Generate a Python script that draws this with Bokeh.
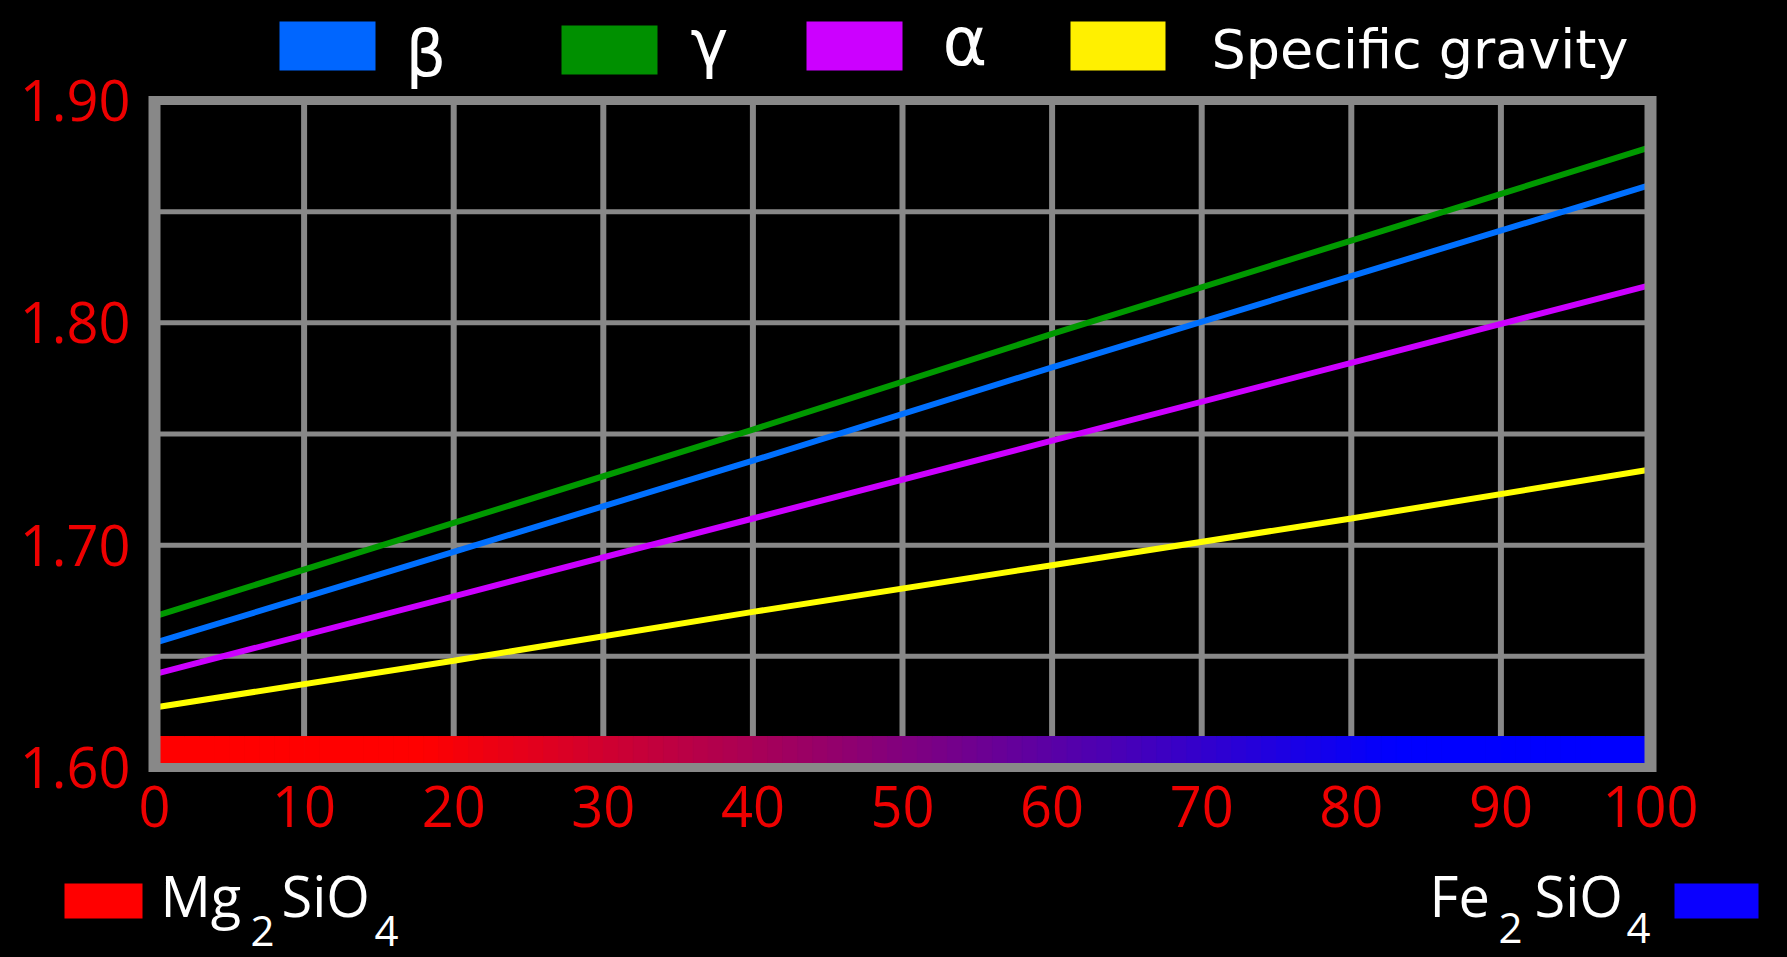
from bokeh.plotting import figure
from bokeh.models import FixedTicker, Range1d, PrintfTickFormatter, LinearAxis
from bokeh.core.properties import value
from bokeh.embed import file_html
from bokeh.resources import INLINE

# ---------------- data ----------------
composition = [0, 20, 40, 60, 80, 100]          # % Fe2SiO4
beta_index = [1.656, 1.697, 1.738, 1.780, 1.821, 1.862]
gamma_index = [1.668, 1.710, 1.752, 1.795, 1.837, 1.879]
alpha_index = [1.642, 1.677, 1.712, 1.747, 1.782, 1.817]
specific_gravity = [1.627, 1.648, 1.670, 1.691, 1.712, 1.734]

x_tick_values = [0, 10, 20, 30, 40, 50, 60, 70, 80, 90, 100]
x_grid_values = [10, 20, 30, 40, 50, 60, 70, 80, 90]
y_tick_values = [1.60, 1.70, 1.80, 1.90]
y_grid_values = [1.65, 1.70, 1.75, 1.80, 1.85]

series_names = ["β", "γ", "α", "Specific gravity"]
endmember_left = ["Mg", "2", "SiO", "4"]
endmember_right = ["Fe", "2", "SiO", "4"]

# ---------------- styles ----------------
BLUE = "#0070FF"
GREEN = "#009900"
PURPLE = "#CC00FF"
YELLOW = "#FFFF00"
GRID = "#888888"
AXIS_RED = "#EE0000"
MG_COLOR = (255, 0, 0)
FE_COLOR = (0, 0, 255)

# canvas geometry (pixels); the data box 0..100 x 1.60..1.90 sits inside the canvas
W, H = 1787, 957
X0_PX, X100_PX = 154.0, 1650.0
YTOP_PX, YBOT_PX = 100.0, 767.0
XMIN, XMAX = 0.0, 100.0
YMIN, YMAX = 1.60, 1.90
SX = (X100_PX - X0_PX) / (XMAX - XMIN)
SY = (YBOT_PX - YTOP_PX) / (YMAX - YMIN)
# em offsets compensating the svg text baseline placement, per font
BASELINE_SHIFT = {"Open Sans": 0.42, "DejaVu Sans": 0.29}


def dx(px):
    return XMIN + (px - X0_PX) / SX


def dy(py):
    return YMAX - (py - YTOP_PX) / SY


def ty(py, size, font):
    return dy(py - BASELINE_SHIFT[font] * size)


p = figure(title=None, width=W, height=H,
           x_range=Range1d(dx(0), dx(W)), y_range=Range1d(dy(H), dy(0)),
           x_axis_type=None, y_axis_type=None,
           min_border=0, min_border_left=0, min_border_right=0,
           min_border_top=0, min_border_bottom=0,
           output_backend="svg", toolbar_location=None,
           background_fill_color="black", border_fill_color="black")
p.outline_line_color = None

# axes pinned to the data box
xaxis = LinearAxis(fixed_location=YMIN, ticker=FixedTicker(ticks=x_tick_values))
yaxis = LinearAxis(fixed_location=XMIN, ticker=FixedTicker(ticks=y_tick_values),
                   formatter=PrintfTickFormatter(format="%.2f"))
for ax in (xaxis, yaxis):
    ax.axis_line_color = None
    ax.major_tick_line_color = None
    ax.minor_tick_line_color = None
    ax.major_tick_out = 0
    ax.major_tick_in = 0
    ax.major_label_text_font = "Open Sans"
    ax.major_label_text_font_size = "56px"
    ax.major_label_text_color = AXIS_RED
yaxis.major_label_standoff = 24
xaxis.major_label_standoff = 18
p.add_layout(xaxis, "below")
p.add_layout(yaxis, "left")

# grid lines
p.segment(x0=x_grid_values, y0=YMIN, x1=x_grid_values, y1=YMAX,
          line_color=GRID, line_width=6)
p.segment(x0=XMIN, y0=y_grid_values, x1=XMAX, y1=y_grid_values,
          line_color=GRID, line_width=5)

# composition colour bar (Mg end-member red -> Fe end-member blue)
bar_top = dy(736)
lefts, rights, cols = [], [], []
for i in range(100):
    xm = i + 0.5
    f = min(max((xm - 18.0) / (83.0 - 18.0), 0.0), 1.0)
    r = int(round(MG_COLOR[0] * (1 - f) + FE_COLOR[0] * f))
    g = int(round(MG_COLOR[1] * (1 - f) + FE_COLOR[1] * f))
    b = int(round(MG_COLOR[2] * (1 - f) + FE_COLOR[2] * f))
    lefts.append(float(i))
    rights.append(float(i + 1))
    cols.append("#%02x%02x%02x" % (r, g, b))
p.quad(left=lefts, right=rights, bottom=YMIN, top=bar_top, fill_color=cols,
       line_color=cols, line_width=1)

# series lines
p.line(composition, specific_gravity, line_color=YELLOW, line_width=6)
p.line(composition, alpha_index, line_color=PURPLE, line_width=6)
p.line(composition, beta_index, line_color=BLUE, line_width=6)
p.line(composition, gamma_index, line_color=GREEN, line_width=6)

# frame border (thick grey box)
p.quad(left=[XMIN], right=[XMAX], bottom=[YMIN], top=[YMAX], fill_color=None,
       line_color=GRID, line_width=9)
p.segment(x0=[XMIN, XMAX], y0=[dy(YTOP_PX - 4.5)] * 2, x1=[XMIN, XMAX], y1=[dy(YBOT_PX + 4.5)] * 2,
          line_color=GRID, line_width=12, line_cap="butt")

# ---------------- top legend ----------------
DV = "DejaVu Sans"
OS = "Open Sans"
p.quad(left=[dx(279), dx(561), dx(806), dx(1070)],
       right=[dx(375), dx(657), dx(902), dx(1165)],
       top=[dy(21), dy(25), dy(21), dy(21)],
       bottom=[dy(70), dy(74), dy(70), dy(70)],
       fill_color=["#0066FF", "#009000", "#CC00FF", "#FFF000"], line_color=None)
p.text(x=[dx(405), dx(690)], y=[ty(72, 64, DV), ty(62, 64, DV)], text=series_names[:2],
       text_font=value(DV), text_font_size=value("64px"),
       text_color="white", text_align="left", text_baseline="alphabetic")
p.text(x=[dx(942)], y=[ty(61, 68, DV)], text=series_names[2:3],
       text_font=value(DV), text_font_size=value("68px"),
       text_color="white", text_align="left", text_baseline="alphabetic")
p.text(x=[dx(1211)], y=[ty(65, 54, DV)], text=series_names[3:],
       text_font=value(DV), text_font_size=value("54px"),
       text_color="white", text_align="left", text_baseline="alphabetic")

# ---------------- bottom end-member labels ----------------
p.quad(left=[dx(64), dx(1674)], right=[dx(142), dx(1758)],
       top=[dy(883), dy(883)], bottom=[dy(918), dy(918)],
       fill_color=["#FF0000", "#0A00FF"], line_color=None)
p.text(x=[dx(160), dx(281), dx(1429), dx(1534)], y=[ty(918, 56, OS)] * 4,
       text=[endmember_left[0], endmember_left[2], endmember_right[0], endmember_right[2]],
       text_font=value(OS), text_font_size=value("56px"),
       text_color="white", text_align="left", text_baseline="alphabetic")
p.text(x=[dx(250), dx(374), dx(1498), dx(1626)],
       y=[ty(948, 42, OS), ty(948, 42, OS), ty(945, 42, OS), ty(945, 42, OS)],
       text=[endmember_left[1], endmember_left[3], endmember_right[1], endmember_right[3]],
       text_font=value(OS), text_font_size=value("42px"),
       text_color="white", text_align="left", text_baseline="alphabetic")

html = file_html(p, INLINE)
html = html.replace("</head>", "<style>html,body{background-color:#000000;}</style></head>", 1)
open("out.html", "w").write(html)
